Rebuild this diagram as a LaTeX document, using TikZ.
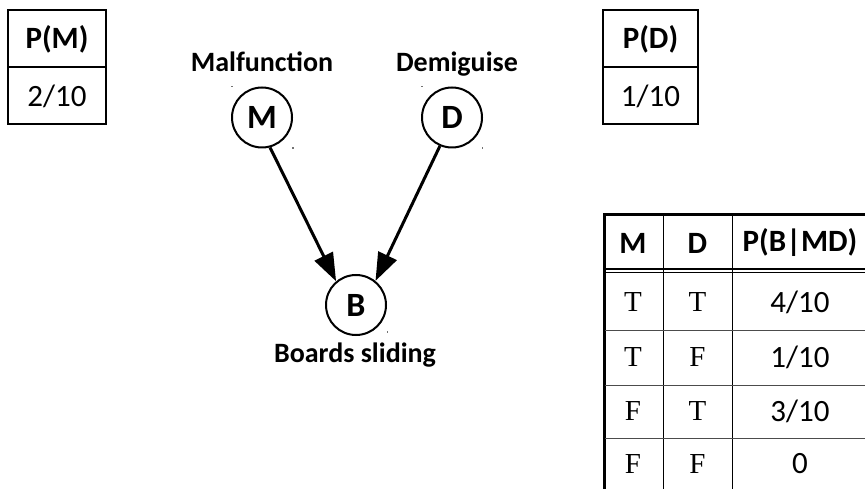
\documentclass[tikz,border=0pt]{standalone}
\usepackage{fontspec}
\setmainfont{Carlito}
\newfontfamily\tfserif{Liberation Serif}
\usetikzlibrary{arrows.meta}
\begin{document}
\begin{tikzpicture}[x=1pt,y=-1pt,
  var/.style={circle, draw, line width=2pt, minimum size=60pt, inner sep=0pt,
    font=\fontsize{34}{34}\selectfont\bfseries},
  lbl/.style={anchor=base, inner sep=0pt, font=\fontsize{28}{30}\selectfont\bfseries},
  hcell/.style={inner sep=0pt, font=\fontsize{31}{31}\selectfont\bfseries},
  vcell/.style={inner sep=0pt, font=\fontsize{31}{31}\selectfont},
  tfcell/.style={inner sep=0pt, font=\fontsize{29}{29}\tfserif},
  link/.style={line width=3pt, -{Triangle[length=28pt,width=20pt]}},
  frame/.style={line width=2pt},
  rule/.style={line width=0.8pt},
  speck/.style={fill=black!55}
]
\useasboundingbox (0,0) rectangle (865,489);
\clip (0,0) rectangle (865,489);

% prior of M
\draw[frame] (8,10) rectangle (106,124);
\draw[frame] (8,67) -- (106,67);
\node[hcell] (pm) at (57,39) {P(M)};
\node[vcell] (pmv) at (57,96) {2/10};

% prior of D
\draw[frame] (603,10) rectangle (698,124);
\draw[frame] (603,67) -- (698,67);
\node[hcell] (pd) at (650.5,39) {P(D)};
\node[vcell] (pdv) at (650.5,96) {1/10};

% network
\node[var] (m) at (262,117.5) {M};
\node[var] (d) at (452,117.5) {D};
\node[var] (b) at (356,305) {B};
\node[lbl] (ml) at (262,72) {Malfunction};
\node[lbl] (dl) at (457,72) {Demiguise};
\node[lbl] (bl) at (355,362) {Boards sliding};
\draw[link] (m.285) -- (b.130);
\draw[link] (d.247) -- (b.51);

% corner specks of the circles
\fill[speck] (231,86) rectangle +(1.5,1.5);
\fill[speck] (292,147.5) rectangle +(1.5,1.5);
\fill[speck] (421,86) rectangle +(1.5,1.5);
\fill[speck] (481.5,147.5) rectangle +(1.5,1.5);
\fill[speck] (386.5,331) rectangle +(1.5,1.5);

% conditional table of B
\draw[line width=2.5pt] (604.3,492) -- (604.3,214.5) -- (870,214.5);
\draw[line width=1.7pt] (603,269.2) -- (870,269.2);
\draw[line width=1.7pt] (603,272.6) -- (870,272.6);
\draw[rule] (663,214.5) -- (663,492);
\draw[rule] (732,214.5) -- (732,492);
\draw[rule, black!70] (605,330) -- (870,330);
\draw[rule, black!70] (605,385) -- (870,385);
\draw[rule, black!70] (605,438) -- (870,438);

\node[hcell] (hm) at (633,243) {M};
\node[hcell] (hd) at (697.5,243) {D};
\node[hcell] (hp) at (800,243) {P(B|MD)};

\node[tfcell] (r1m) at (633,302) {T};
\node[tfcell] (r1d) at (697.5,302) {T};
\node[vcell] (r1p) at (800,302) {4/10};
\node[tfcell] (r2m) at (633,357.5) {T};
\node[tfcell] (r2d) at (697.5,357.5) {F};
\node[vcell] (r2p) at (800,357.5) {1/10};
\node[tfcell] (r3m) at (633,411.5) {F};
\node[tfcell] (r3d) at (697.5,411.5) {T};
\node[vcell] (r3p) at (800,411.5) {3/10};
\node[tfcell] (r4m) at (633,464) {F};
\node[tfcell] (r4d) at (697.5,464) {F};
\node[vcell] (r4p) at (800,464) {0};
\end{tikzpicture}
\end{document}
